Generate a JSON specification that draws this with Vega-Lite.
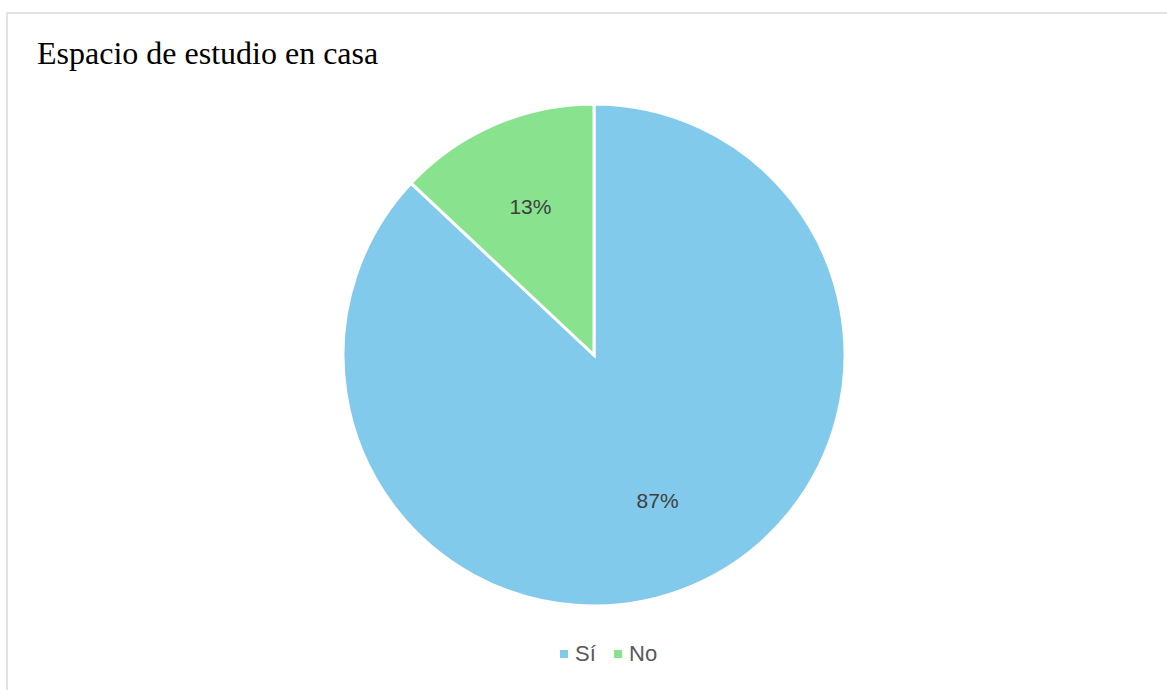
{
  "$schema": "https://vega.github.io/schema/vega-lite/v6.json",
  "autosize": {"type": "none"},
  "padding": {"left": 7, "top": 13, "right": 0, "bottom": 0},
  "width": 1174,
  "height": 684,
  "background": "#ffffff",
  "view": {"stroke": "#d9d9d9", "strokeWidth": 1.5},
  "title": {
    "text": "Espacio de estudio en casa",
    "anchor": "start",
    "frame": "group",
    "orient": "top",
    "offset": -51,
    "dx": 30,
    "dy": 32,
    "font": "Liberation Serif",
    "fontSize": 32,
    "fontWeight": "normal",
    "color": "#000000",
    "baseline": "alphabetic"
  },
  "config": {"view": {"stroke": "#d9d9d9", "strokeWidth": 1.5}},
  "data": {
    "values": [
      {"respuesta": "Sí", "porcentaje": 0.87, "orden": 1},
      {"respuesta": "No", "porcentaje": 0.13, "orden": 2}
    ]
  },
  "encoding": {
    "theta": {"field": "porcentaje", "type": "quantitative", "stack": true},
    "order": {"field": "orden", "type": "quantitative"},
    "color": {
      "field": "respuesta",
      "type": "nominal",
      "scale": {"domain": ["Sí", "No"], "range": ["#82CAEB", "#88E28E"]},
      "legend": {
        "orient": "none",
        "legendX": 546,
        "legendY": 630,
        "direction": "horizontal",
        "title": null,
        "symbolType": "square",
        "symbolSize": 64,
        "symbolStrokeWidth": 0,
        "labelFont": "Liberation Sans",
        "labelFontSize": 22,
        "labelColor": "#595959",
        "columnPadding": 11,
        "labelOffset": 0
      }
    }
  },
  "layer": [
    {"mark": {"type": "arc", "outerRadius": 251, "stroke": "#ffffff", "strokeWidth": 3}},
    {
      "mark": {"type": "text", "radius": 160, "font": "Liberation Sans", "fontSize": 21},
      "encoding": {
        "text": {"field": "porcentaje", "type": "quantitative", "format": ".0%"},
        "detail": {"field": "respuesta", "type": "nominal"},
        "color": {"value": "#404040"}
      }
    }
  ]
}
